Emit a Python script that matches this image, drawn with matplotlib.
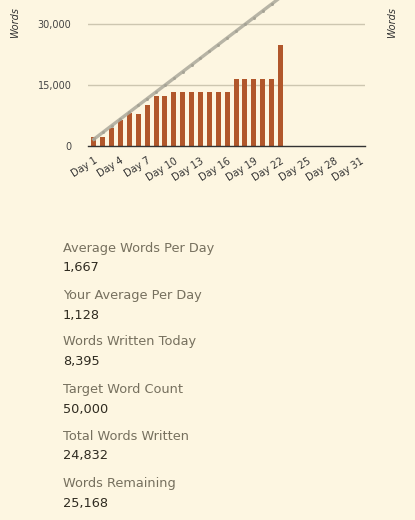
import numpy as np
import matplotlib
matplotlib.use("Agg")
import matplotlib.pyplot as plt

# cumulative word count per day (days 1-22 written so far)
days_written = list(range(1, 23))
words = [2210, 2300, 4500, 6400, 8150, 7950, 10080, 12350, 12350,
         13200, 13200, 13200, 13200, 13200, 13200, 13200,
         16437, 16437, 16437, 16437, 16437, 24832]

# target pace line (50,000 over 30 days)
target_days = list(range(1, 31))
target = [1667, 3333, 5000, 6667, 8333, 10000, 11667, 13333, 15000, 16667,
          18333, 20000, 21667, 23333, 25000, 26667, 28333, 30000, 31667, 33333,
          35000, 36667, 38333, 40000, 41667, 43333, 45000, 46667, 48333, 50000]

tick_days = [1, 4, 7, 10, 13, 16, 19, 22, 25, 28, 31]
tick_labels = ["Day %d" % d for d in tick_days]
y_ticks = [0, 15000, 30000]
y_labels = ["0", "15,000", "30,000"]

stats = [("Average Words Per Day", "1,667"),
         ("Your Average Per Day", "1,128"),
         ("Words Written Today", "8,395"),
         ("Target Word Count", "50,000"),
         ("Total Words Written", "24,832"),
         ("Words Remaining", "25,168")]

bg = "#fdf6e1"
W, H = 415, 520
fig = plt.figure(figsize=(W / 100, H / 100), dpi=100, facecolor=bg)

# plot area in pixels: x 88..365, zero line at y=146, top at y=0
ax = fig.add_axes([88 / W, 1 - 146 / H, (365 - 88) / W, 146 / H])
ax.set_facecolor(bg)
ax.set_xlim(0.35, 31.5)
ax.set_ylim(0, 36000)

for y in y_ticks[1:]:
    ax.axhline(y, color="#cdc6b0", lw=1, zorder=1)

ax.bar(days_written, words, width=0.56, color="#b1572b", zorder=2)
ax.plot(target_days, target, color="#b0ad9f", lw=2.4, marker="o",
        markersize=2.2, markerfacecolor="#a4a193", markeredgewidth=0,
        alpha=0.9, zorder=3)

for s in ["top", "right", "left"]:
    ax.spines[s].set_visible(False)
ax.spines["bottom"].set_color("#333333")
ax.spines["bottom"].set_linewidth(1)

ax.set_yticks(y_ticks)
ax.set_yticklabels(y_labels, fontsize=7, color="#444444")
ax.set_xticks(tick_days)
ax.set_xticklabels(tick_labels, fontsize=7, color="#333333", rotation=32,
                   ha="right", rotation_mode="anchor")
ax.tick_params(axis="both", length=0)
ax.tick_params(axis="y", pad=12)
ax.tick_params(axis="x", pad=7)

fig.text(15 / W, 1 - 22 / H, "Words", rotation=90, fontsize=7, style="italic",
         color="#333333", ha="center", va="center")
fig.text(392 / W, 1 - 22 / H, "Words", rotation=90, fontsize=7, style="italic",
         color="#333333", ha="center", va="center")

# stats list below the chart
for i, (label, value) in enumerate(stats):
    y0 = 248 + i * 47
    fig.text(63 / W, 1 - y0 / H, label, fontsize=9.3, color="#76705e",
             ha="left", va="center")
    fig.text(63 / W, 1 - (y0 + 20) / H, value, fontsize=9.3, color="#2f2b20",
             ha="left", va="center")

fig.savefig("out.png", dpi=100, facecolor=bg)
